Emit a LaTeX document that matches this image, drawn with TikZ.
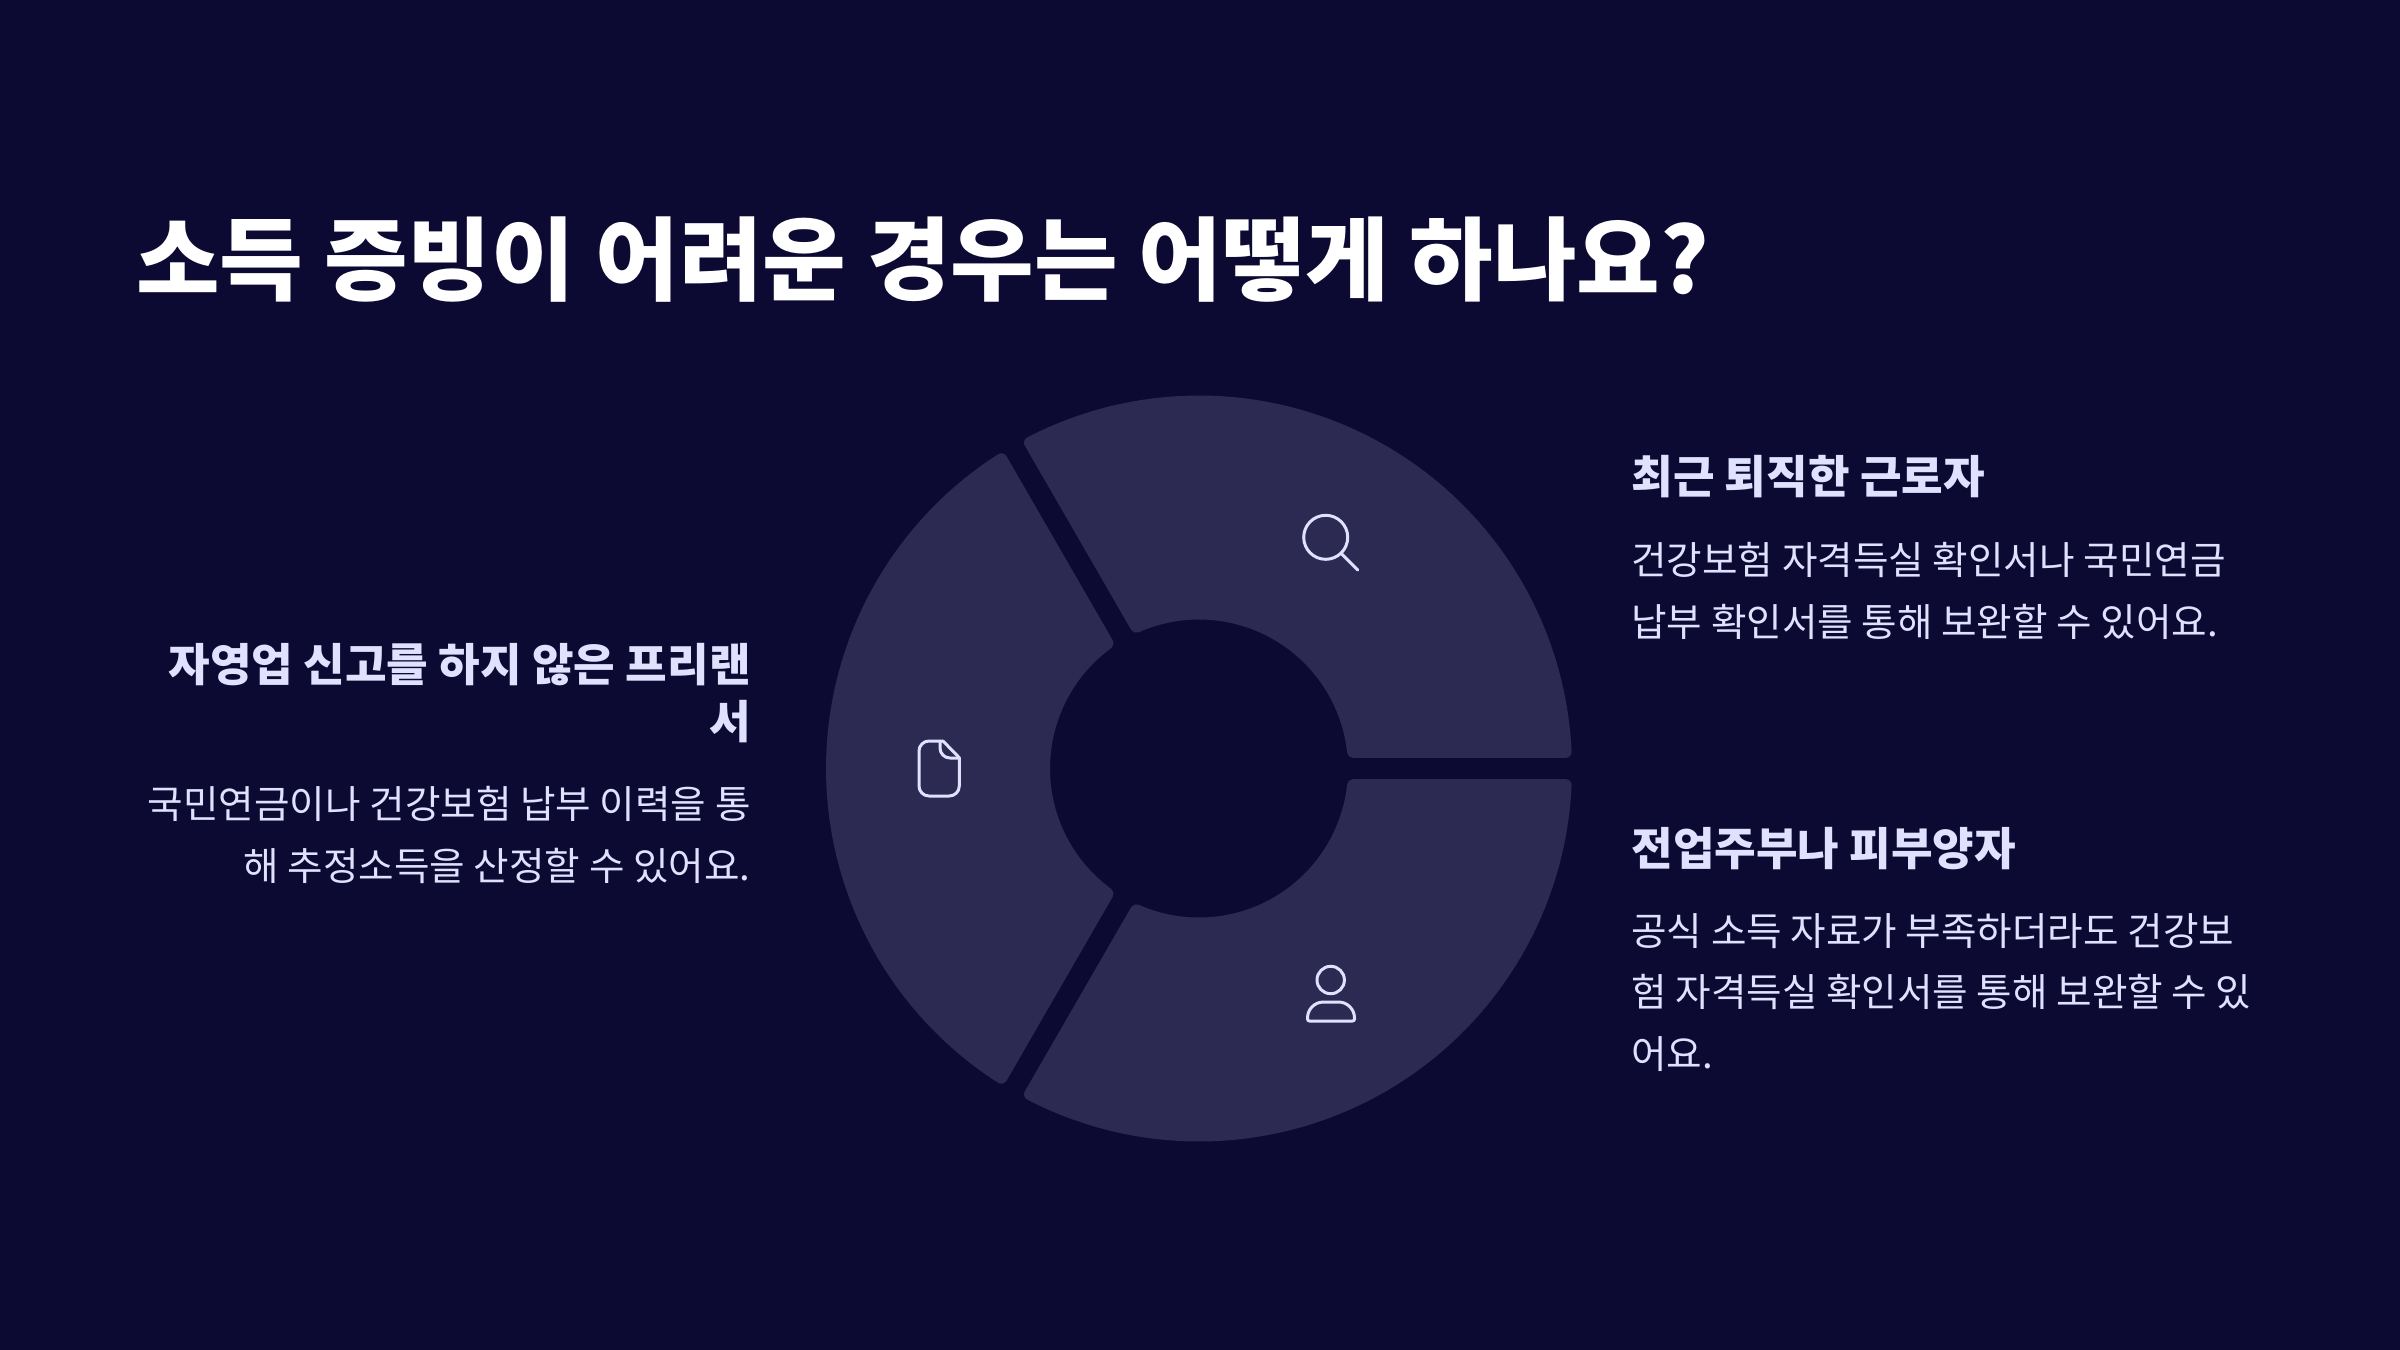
\documentclass[tikz,border=0pt]{standalone}
\usepackage{fontspec}
\usepackage{xcolor}
\setmainfont{Noto Sans CJK KR}
\usetikzlibrary{calc}
\definecolor{bgColor}{HTML}{0C0A33}
\definecolor{segColor}{HTML}{2C2A52}
\definecolor{textColor}{HTML}{DFE1FF}
\tikzset{
    headtext/.style={text=textColor, font=\fontsize{22.6}{28.5}\selectfont\bfseries, inner sep=0pt},
    bodytext/.style={text=textColor, font=\fontsize{19.3}{30.8}\selectfont, inner sep=0pt},
    segment/.style={draw=segColor, fill=segColor, line width=6pt, line join=round},
    iconline/.style={draw=textColor, line width=1.5pt, line cap=round, line join=round},
}
\begin{document}
\begin{tikzpicture}[x=0.5pt,y=-0.5pt]
    \fill[bgColor] (0,0) rectangle (2400,1350);
    \useasboundingbox (0,0) rectangle (2400,1350);
    \node[anchor=base west, text=white, font=\fontsize{45.4}{56}\selectfont\bfseries, inner sep=0pt] (title) at (136,293) {소득 증빙이 어려운 경우는 어떻게 하나요?};
    \coordinate (c) at (1199,768.5);
    \foreach \a/\b in {-120/0, 0/120, 120/240}
        \draw[segment] ($(c)+(\a+2.59:367)$) arc (\a+2.59:\b-2.59:367)
            -- ($(c)+(\b-6.15:155)$) arc (\b-6.15:\a+6.15:155) -- cycle;
    % icons
    \draw[iconline] (1325.7,537.3) circle (22);
    \draw[iconline] (1341.7,554) -- (1357.7,570);
    \draw[iconline, rounded corners=5] (943,741) -- (919,741) -- (919,796) -- (959.3,796) -- (959.3,757.7);
    \draw[iconline] (943,741) -- (959.3,757.7);
    \draw[iconline, rounded corners=5] (940,741) -- (940,758) -- (959.3,758);
    \draw[iconline] (1330.7,980) circle (13.7);
    \draw[iconline] (1307.5,1018) arc (180:270:16) -- (1338.5,1002) arc (270:360:16)
        -- (1354.5,1019) arc (0:90:2) -- (1309.5,1021) arc (90:180:2) -- cycle;
    % right column
    \node[headtext, anchor=base west] (head1) at (1631,493) {최근 퇴직한 근로자};
    \node[bodytext, anchor=north west, align=left] (body1) at (1631,542) {건강보험 자격득실 확인서나 국민연금\\납부 확인서를 통해 보완할 수 있어요.};
    \node[headtext, anchor=base west] (head2) at (1631,865) {전업주부나 피부양자};
    \node[bodytext, anchor=north west, align=left] (body2) at (1631,913) {공식 소득 자료가 부족하더라도 건강보\\험 자격득실 확인서를 통해 보완할 수 있\\어요.};
    % left column
    \node[headtext, anchor=north east, align=right] (head3) at (751,643) {자영업 신고를 하지 않은 프리랜\\서};
    \node[bodytext, anchor=north east, align=right] (body3) at (751,786) {국민연금이나 건강보험 납부 이력을 통\\해 추정소득을 산정할 수 있어요.};
\end{tikzpicture}
\end{document}
